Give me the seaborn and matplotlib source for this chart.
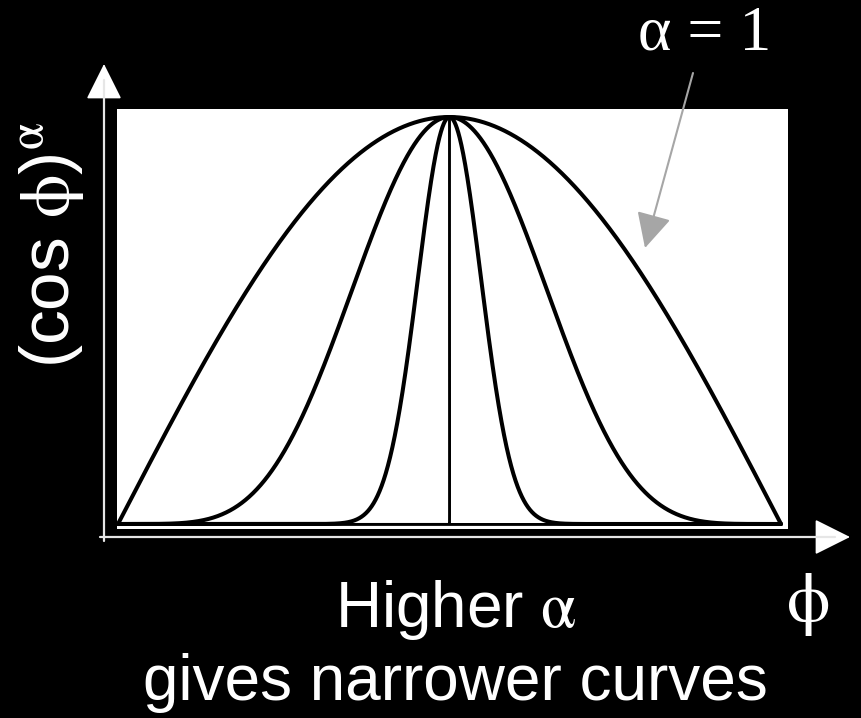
import numpy as np
import pandas as pd
import matplotlib
matplotlib.use("Agg")
import matplotlib.pyplot as plt
import seaborn as sns

# Exponents of the cosine lobes, from the broadest to the (near) delta spike
alphas = [1, 5, 45, 10000000]
line_widths = [2.9, 2.9, 2.9, 1.4]
phi_range = [-90, 90]

ylabel_text = r"(cos $\phi$)$^{\alpha}$"
xlabel_text = r"$\phi$"
callout_text = "α = 1"
caption_lines = [r"Higher $\alpha$", "gives narrower curves"]

sns.set_theme(style="white")
plt.rcParams["font.family"] = ["Liberation Sans", "DejaVu Sans"]
plt.rcParams["mathtext.fontset"] = "stix"
plt.rcParams["mathtext.default"] = "rm"

W, H = 862, 718
fig = plt.figure(figsize=(W / 100, H / 100), dpi=100, facecolor="black")

# white plotting panel
ax = fig.add_axes([117 / W, (H - 529) / H, 671 / W, 420 / H])
ax.set_facecolor("white")
for s in ax.spines.values():
    s.set_visible(False)
ax.set_xticks([])
ax.set_yticks([])

phi = np.linspace(phi_range[0], phi_range[1], 72001)
rows = []
for a in alphas:
    rows.append(pd.DataFrame({"phi": phi,
                              "val": np.cos(np.radians(phi)) ** a,
                              "alpha": a}))
df = pd.concat(rows, ignore_index=True)

for a, lw in zip(alphas, line_widths):
    sub = df[df["alpha"] == a]
    sns.lineplot(data=sub, x="phi", y="val", ax=ax, color="black",
                 linewidth=lw, estimator=None, legend=False)

ax.hlines(0, phi_range[0], phi_range[1], color="black", linewidth=2.0)
ax.set_xlim(-90.27, 91.9)
ax.set_ylim(-0.0123, 1.0197)
ax.set_xlabel("")
ax.set_ylabel("")

def fpx(x, y):
    return (x, H - y)

axis_col = "#e6e6e6"
# vertical axis arrow
fig.add_artist(plt.Line2D([104 / W, 104 / W], [1 - 541 / H, 1 - 80 / H],
                          color=axis_col, linewidth=1.6))
ax.annotate("", xy=fpx(104, 64), xytext=fpx(104, 91), xycoords="figure pixels",
            textcoords="figure pixels",
            arrowprops=dict(arrowstyle="-|>,head_length=1.9,head_width=0.95",
                            color="white", lw=1.2, shrinkA=0, shrinkB=0),
            annotation_clip=False)
# horizontal axis arrow
fig.add_artist(plt.Line2D([100 / W, 835 / W], [1 - 537 / H, 1 - 537 / H],
                          color=axis_col, linewidth=1.6))
ax.annotate("", xy=fpx(850, 537), xytext=fpx(824, 537), xycoords="figure pixels",
            textcoords="figure pixels",
            arrowprops=dict(arrowstyle="-|>,head_length=1.9,head_width=0.95",
                            color="white", lw=1.2, shrinkA=0, shrinkB=0),
            annotation_clip=False)

# callout for the alpha = 1 curve
ax.annotate("", xy=fpx(645, 248), xytext=fpx(693, 73), xycoords="figure pixels",
            textcoords="figure pixels",
            arrowprops=dict(arrowstyle="-|>,head_length=1.8,head_width=0.9",
                            color="#a6a6a6", lw=1.5, shrinkA=0, shrinkB=0),
            annotation_clip=False)
fig.text(705 / W, 1 - 50 / H, callout_text, color="white", fontsize=46,
         family=["Liberation Serif", "DejaVu Serif"], ha="center", va="baseline")

# axis labels
fig.text(52 / W, 1 - 245 / H, ylabel_text, color="white", fontsize=50,
         rotation=90, ha="center", va="center")
fig.text(808 / W, 1 - 605 / H, xlabel_text, color="white", fontsize=50,
         ha="center", va="center")

# caption
fig.text(456 / W, 1 - 627 / H, caption_lines[0], color="white", fontsize=46,
         ha="center", va="baseline")
fig.text(455 / W, 1 - 700 / H, caption_lines[1], color="white", fontsize=46,
         ha="center", va="baseline")

fig.savefig("out.png", dpi=100, facecolor="black")
